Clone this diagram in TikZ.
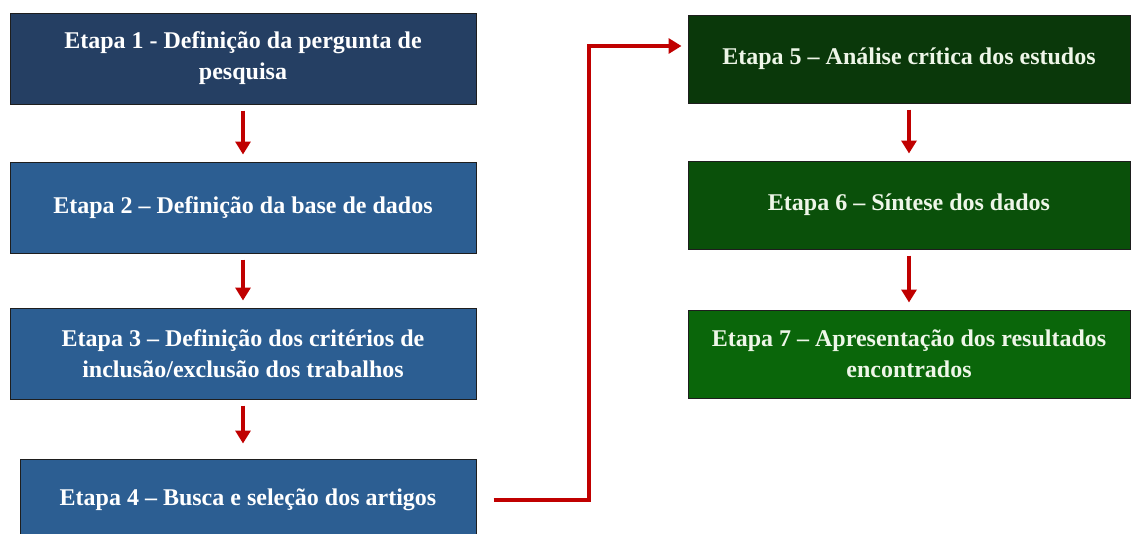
\documentclass[tikz,border=0pt]{standalone}
\usepackage{fontspec}
\setmainfont{Liberation Serif}
\usetikzlibrary{arrows.meta}
\definecolor{navy}{RGB}{37,63,99}
\definecolor{stepblue}{RGB}{44,94,146}
\definecolor{greenA}{RGB}{10,56,10}
\definecolor{greenB}{RGB}{10,80,10}
\definecolor{greenC}{RGB}{10,102,10}
\definecolor{arrred}{RGB}{192,0,0}
\definecolor{greentext}{RGB}{238,246,232}
\definecolor{boxline}{RGB}{30,30,30}
\begin{document}
\begin{tikzpicture}[x=1pt,y=-1pt,
  stepbox/.style={draw=boxline, line width=1pt, rectangle, inner sep=0pt,
    align=center, font=\fontsize{24}{31}\selectfont\bfseries},
  bluebox/.style={stepbox, text=white, minimum width=466pt, minimum height=91pt},
  greenbox/.style={stepbox, text=greentext, minimum width=442pt, minimum height=88pt},
  varrow/.style={draw=arrred, line width=4.5pt,
    -{Triangle[width=15pt,length=13pt]}, shorten <=6pt, shorten >=7pt},
  conn/.style={draw=arrred, line width=4.5pt,
    -{Triangle[width=15pt,length=13pt]}, shorten <=17pt, shorten >=6pt}]
\useasboundingbox (0,0) rectangle (1132,533);
\clip (0,0) rectangle (1132,533);
\fill[white] (0,0) rectangle (1132,533);

\node[bluebox, fill=navy] (s1) at (243,58.5) {Etapa 1 - Definição da pergunta de\\pesquisa};
\node[bluebox, fill=stepblue] (s2) at (243,207.5) {Etapa 2 -- Definição da base de dados};
\node[bluebox, fill=stepblue] (s3) at (243,353.5) {Etapa 3 -- Definição dos critérios de\\inclusão/exclusão dos trabalhos};
\node[bluebox, fill=stepblue, minimum width=456pt, minimum height=82pt] (s4) at (248,500) {Etapa 4 -- Busca e seleção dos artigos};

\node[greenbox, fill=greenA] (s5) at (909,59) {Etapa 5 -- Análise crítica dos estudos};
\node[greenbox, fill=greenB] (s6) at (909,205) {Etapa 6 -- Síntese dos dados};
\node[greenbox, fill=greenC] (s7) at (909,354) {Etapa 7 -- Apresentação dos resultados\\encontrados};

\coordinate (b1) at (589,500);
\coordinate (b2) at (589,46);

\draw[varrow] (s1.south) -- (s2.north);
\draw[varrow] (s2.south) -- (s3.north);
\draw[varrow, shorten >=15pt] (s3.south) -- (s3.south |- s4.north);
\draw[varrow] (s5.south) -- (s6.north);
\draw[varrow] (s6.south) -- (s7.north);
\draw[conn] (s4.east) -- (b1) -- (b2) -- (s5.west |- b2);
\end{tikzpicture}
\end{document}
